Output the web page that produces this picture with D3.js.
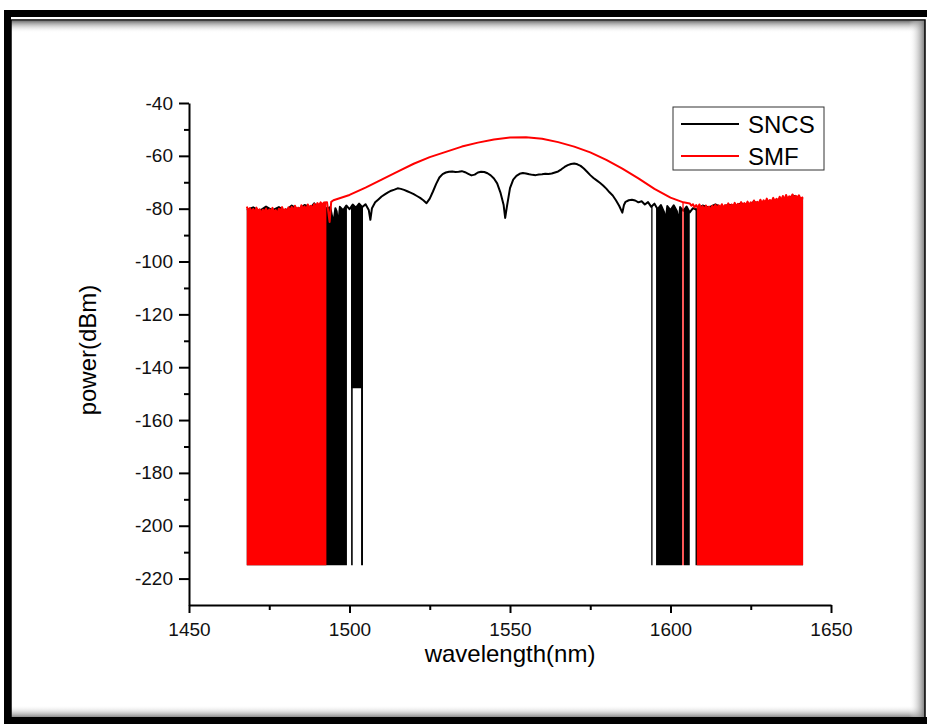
<!DOCTYPE html>
<html lang="en">
<head>
  <meta charset="UTF-8">
  <title>SNCS vs SMF spectrum</title>
  <style>
    body { margin: 0; background: #fff; }
    svg { display: block; font-family: "Liberation Sans", Arial, sans-serif; }
  </style>
</head>
<body>
  <script src="https://d3js.org/d3.v7.min.js"></script>
  <script>
    // upper trace of the SMF spectrum (wavelength nm, dBm)
    const smfTrace = [
      [1468, -79.2], [1468.5, -80.6], [1469, -79.8], [1469.5, -81.2], [1470, -80.1], [1470.5, -81.5],
      [1471, -79.6], [1471.5, -80.9], [1472, -80.2], [1472.5, -81.8], [1473, -80.4], [1473.5, -81.1],
      [1474, -79.9], [1474.5, -81.6], [1475, -80.3], [1475.5, -81.0], [1476, -79.7], [1476.5, -81.4],
      [1477, -80.5], [1477.5, -81.9], [1478, -80.0], [1478.5, -80.8], [1479, -79.4], [1479.5, -81.2],
      [1480, -80.1], [1480.5, -81.3], [1481, -79.5], [1481.5, -80.7], [1482, -79.3], [1482.5, -80.9],
      [1483, -78.9], [1483.5, -80.2], [1484, -79.6], [1484.5, -80.8], [1485, -78.7], [1485.5, -80.0],
      [1486, -79.1], [1486.5, -80.4], [1487, -78.4], [1487.5, -79.6], [1488, -78.9], [1488.5, -79.9],
      [1489, -78.2], [1489.5, -79.3], [1490, -77.9], [1490.5, -78.8], [1491, -77.6], [1491.5, -78.5],
      [1492, -77.7], [1493, -77.6], [1493.8, -85.0], [1494.3, -77.4], [1495, -76.8], [1500, -74.8],
      [1505, -72.0], [1510, -69.0], [1515, -66.0], [1520, -63.0], [1525, -60.5], [1530, -58.5],
      [1535, -56.5], [1540, -55.0], [1545, -53.8], [1550, -53.1], [1555, -53.0], [1560, -53.5],
      [1565, -54.8], [1570, -56.5], [1575, -58.7], [1580, -61.5], [1585, -64.8], [1590, -68.5],
      [1595, -72.5], [1600, -75.8], [1604, -77.6], [1606, -78.0], [1606.5, -78.9], [1607, -78.3],
      [1607.5, -79.5], [1608, -78.6], [1608.5, -79.8], [1609, -78.4], [1609.5, -80.1], [1610, -79.0],
      [1610.5, -80.4], [1611, -78.8], [1611.5, -79.9], [1612, -79.2], [1612.5, -80.5], [1613, -78.9],
      [1613.5, -79.7], [1614, -78.5], [1614.5, -80.0], [1615, -78.7], [1615.5, -79.6], [1616, -78.3],
      [1616.5, -79.8], [1617, -78.6], [1617.5, -79.4], [1618, -78.0], [1618.5, -79.5], [1619, -78.4],
      [1619.5, -79.2], [1620, -77.8], [1620.5, -79.1], [1621, -78.2], [1621.5, -78.9], [1622, -77.5],
      [1622.5, -78.8], [1623, -77.9], [1623.5, -78.6], [1624, -77.3], [1624.5, -78.7], [1625, -77.6],
      [1625.5, -78.4], [1626, -76.9], [1626.5, -78.2], [1627, -77.4], [1627.5, -78.0], [1628, -76.6],
      [1628.5, -77.9], [1629, -76.8], [1629.5, -77.7], [1630, -76.2], [1630.5, -77.5], [1631, -76.7],
      [1631.5, -77.3], [1632, -75.9], [1632.5, -77.2], [1633, -76.3], [1633.5, -77.0], [1634, -75.5],
      [1634.5, -76.8], [1635, -75.2], [1635.5, -76.6], [1636, -74.8], [1636.5, -76.4], [1637, -75.3],
      [1637.5, -76.1], [1638, -74.6], [1638.5, -76.0], [1639, -75.1], [1639.5, -75.8], [1640, -74.9],
      [1640.5, -76.2], [1641.3, -75.6]
    ];

    // upper trace of the SNCS spectrum
    const sncsTrace = [
      [1468, -80.5], [1470, -79.5], [1472, -80.8], [1474, -79.2], [1476, -80.6], [1478, -79.4],
      [1480, -80.9], [1482, -78.8], [1484, -80.3], [1486, -78.6], [1488, -79.5], [1489, -78.0],
      [1490, -79.5], [1491, -80.3], [1492, -79.2], [1493, -80.0], [1494, -79.4], [1495, -85.5],
      [1495.6, -79.8], [1496, -81.0], [1496.5, -86.0], [1497, -79.3], [1498, -80.6], [1499, -78.8],
      [1500, -80.2], [1501, -78.4], [1502, -79.6], [1503, -78.1], [1504, -79.4], [1505, -78.3],
      [1506, -80.5], [1506.5, -84.2], [1507, -79.8], [1508, -77.6], [1509, -76.5], [1510, -75.4],
      [1511, -74.6], [1512, -73.8], [1513, -73.2], [1514, -72.8], [1515, -72.3], [1516, -72.5],
      [1517, -72.9], [1518, -73.4], [1519, -73.9], [1520, -74.5], [1521, -75.2], [1522, -75.9],
      [1523, -76.8], [1524, -77.9], [1525, -76.2], [1526, -73.5], [1527, -70.6], [1528, -68.2],
      [1529, -66.9], [1530, -66.3], [1531, -66.0], [1532, -65.9], [1533, -66.1], [1534, -66.0],
      [1535, -65.8], [1536, -66.2], [1537, -66.8], [1538, -67.4], [1539, -67.1], [1540, -66.3],
      [1541, -66.0], [1542, -66.1], [1543, -66.6], [1544, -67.4], [1545, -68.6], [1546, -70.4],
      [1547, -73.8], [1548, -78.5], [1548.5, -83.5], [1549, -79.5], [1550, -72.2], [1551, -69.0],
      [1552, -67.6], [1553, -66.8], [1554, -66.5], [1555, -66.7], [1556, -67.0], [1557, -67.2],
      [1558, -67.3], [1559, -67.1], [1560, -67.0], [1561, -66.8], [1562, -66.9], [1563, -66.7],
      [1564, -66.3], [1565, -65.9], [1566, -65.1], [1567, -64.2], [1568, -63.5], [1569, -63.1],
      [1570, -62.9], [1571, -63.2], [1572, -63.8], [1573, -64.8], [1574, -66.0], [1575, -67.3],
      [1576, -68.4], [1577, -69.3], [1578, -70.2], [1579, -71.2], [1580, -72.4], [1581, -73.8],
      [1582, -75.0], [1583, -76.8], [1584, -78.9], [1585, -81.5], [1585.5, -78.6], [1586, -77.4],
      [1587, -76.8], [1588, -76.6], [1589, -76.9], [1590, -77.6], [1591, -77.2], [1592, -78.4],
      [1593, -77.5], [1594, -79.3], [1595, -78.1], [1596, -80.2], [1597, -78.6], [1598, -81.3],
      [1598.5, -84.5], [1599, -79.0], [1600, -80.5], [1601, -78.7], [1602, -81.0], [1602.5, -85.2],
      [1603, -79.4], [1604, -80.8], [1605, -79.2], [1606, -81.4], [1607, -79.8], [1608, -80.3],
      [1610, -78.8], [1612, -79.5], [1614, -78.4], [1616, -79.6], [1618, -78.5], [1620, -78.9],
      [1622, -78.0], [1624, -78.7], [1626, -77.4], [1628, -78.3], [1630, -77.0], [1632, -77.8],
      [1634, -76.2], [1636, -77.1], [1638, -75.0], [1640, -76.0], [1641.3, -76.5]
    ];

    // wavelength ranges where the trace keeps dropping to the floor [from, to, floor dBm]
    const sncsBands = [
      [1468.0, 1499.2, -215], [1500.5, 1504.2, -148], [1500.5, 1501.0, -215], [1503.6, 1504.2, -215],
      [1594.0, 1594.4, -215], [1595.5, 1603.6, -215], [1604.2, 1606.0, -215], [1607.8, 1641.3, -215]
    ];
    const smfBands = [
      [1468.0, 1492.8, -215], [1603.7, 1604.1, -215], [1608.2, 1641.3, -215]
    ];

    const xTicks = [1450, 1500, 1550, 1600, 1650];
    const xMinor = [1475, 1525, 1575, 1625];
    const yTicks = [-40, -60, -80, -100, -120, -140, -160, -180, -200, -220];
    const yMinor = [-50, -70, -90, -110, -130, -150, -170, -190, -210];
    const series = ["SNCS", "SMF"];
    const colors = ["#000000", "#ff0000"];

    const width = 927, height = 725;
    const svg = d3.select("body").append("svg")
      .attr("width", width)
      .attr("height", height);

    // frame with inner shadow
    const defs = svg.append("defs");
    function grad(id, x1, y1, x2, y2) {
      const g = defs.append("linearGradient").attr("id", id)
        .attr("x1", x1).attr("y1", y1).attr("x2", x2).attr("y2", y2);
      g.append("stop").attr("offset", "0%").attr("stop-color", "#777");
      g.append("stop").attr("offset", "100%").attr("stop-color", "#fff").attr("stop-opacity", 0);
    }
    grad("shTop", 0, 0, 0, 1);
    grad("shBottom", 0, 1, 0, 0);
    grad("shRight", 1, 0, 0, 0);

    svg.append("rect").attr("width", width).attr("height", height).attr("fill", "#fff");
    svg.append("rect").attr("x", 11).attr("y", 21).attr("width", 914).attr("height", 12).attr("fill", "url(#shTop)");
    svg.append("rect").attr("x", 11).attr("y", 705).attr("width", 914).attr("height", 13).attr("fill", "url(#shBottom)");
    svg.append("rect").attr("x", 909).attr("y", 21).attr("width", 16).attr("height", 697).attr("fill", "url(#shRight)");
    svg.append("rect").attr("x", 7.5).attr("y", 13.5).attr("width", 925).attr("height", 707)
      .attr("fill", "none").attr("stroke", "#000").attr("stroke-width", 7);
    svg.append("rect").attr("x", 11).attr("y", 20).attr("width", 914).attr("height", 698.5)
      .attr("fill", "none").attr("stroke", "#000").attr("stroke-width", 1.5);

    const x = d3.scaleLinear().domain([1450, 1650]).range([189, 831]);
    const y = d3.scaleLinear().domain([-230, -40]).range([605, 103]);

    // top value of a trace at wavelength w (only for band edges)
    function topAt(trace, w) {
      const i = d3.bisector(d => d[0]).left(trace, w);
      if (i <= 0) return trace[0][1];
      if (i >= trace.length) return trace[trace.length - 1][1];
      const a = trace[i - 1], b = trace[i];
      return a[1] + (b[1] - a[1]) * (w - a[0]) / (b[0] - a[0]);
    }

    function drawSeries(trace, bands, color) {
      const g = svg.append("g");
      bands.forEach(([a, b, floor]) => {
        const pts = [[a, topAt(trace, a)]]
          .concat(trace.filter(d => d[0] > a && d[0] < b))
          .concat([[b, topAt(trace, b)]]);
        g.append("path")
          .datum(pts)
          .attr("fill", color)
          .attr("d", d3.area().x(d => x(d[0])).y0(y(floor)).y1(d => y(d[1])));
      });
      g.append("path")
        .datum(trace)
        .attr("fill", "none")
        .attr("stroke", color)
        .attr("stroke-width", 2)
        .attr("stroke-linejoin", "round")
        .attr("d", d3.line().x(d => x(d[0])).y(d => y(d[1])));
    }

    drawSeries(sncsTrace, sncsBands, colors[0]);
    drawSeries(smfTrace, smfBands, colors[1]);

    // axes
    svg.append("g").attr("transform", "translate(0,605)")
      .call(d3.axisBottom(x).tickValues(xTicks).tickSize(8).tickSizeOuter(0).tickPadding(10).tickFormat(d3.format("d")));
    svg.append("g").attr("transform", "translate(0,605)")
      .call(d3.axisBottom(x).tickValues(xMinor).tickSize(5).tickSizeOuter(0).tickFormat(""))
      .select(".domain").remove();
    svg.append("g").attr("transform", "translate(189,0)")
      .call(d3.axisLeft(y).tickValues(yTicks).tickSize(10).tickSizeOuter(0).tickPadding(6).tickFormat(d => d));
    svg.append("g").attr("transform", "translate(189,0)")
      .call(d3.axisLeft(y).tickValues(yMinor).tickSize(5).tickSizeOuter(0).tickFormat(""))
      .select(".domain").remove();

    svg.selectAll(".domain").attr("stroke-width", 2);
    svg.selectAll(".tick line").attr("stroke-width", 2);
    svg.selectAll(".tick text")
      .attr("font-family", "'Liberation Sans', Arial, sans-serif")
      .attr("font-size", 19)
      .attr("fill", "#111");

    svg.append("text")
      .attr("x", 510).attr("y", 662)
      .attr("text-anchor", "middle")
      .attr("font-size", 24)
      .text("wavelength(nm)");
    svg.append("text")
      .attr("transform", "translate(96,350) rotate(-90)")
      .attr("text-anchor", "middle")
      .attr("font-size", 24)
      .text("power(dBm)");

    // legend
    const legend = svg.append("g");
    legend.append("rect")
      .attr("x", 673).attr("y", 107).attr("width", 151).attr("height", 63)
      .attr("fill", "#fff").attr("stroke", "#333").attr("stroke-width", 1);
    series.forEach((s, i) => {
      const ly = 124 + i * 32;
      legend.append("line")
        .attr("x1", 681).attr("x2", 739).attr("y1", ly).attr("y2", ly)
        .attr("stroke", colors[i]).attr("stroke-width", 2);
      legend.append("text")
        .attr("x", 748).attr("y", ly + 8.5)
        .attr("font-size", 24)
        .text(s);
    });
  </script>
</body>
</html>
